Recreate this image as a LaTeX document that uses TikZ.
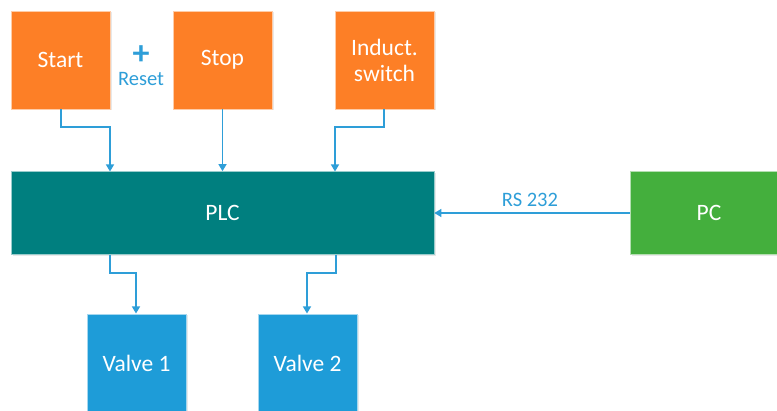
\documentclass[tikz,border=0pt]{standalone}
\usepackage{fontspec}
\setmainfont{Carlito}
\usetikzlibrary{arrows.meta,shadows}
\definecolor{orng}{HTML}{FD7F26}
\definecolor{teal2}{HTML}{007F7F}
\definecolor{grn}{HTML}{44AF3D}
\definecolor{blu}{HTML}{1E9CD8}
\definecolor{arr}{HTML}{2E9ED8}
\tikzset{
  box/.style={rectangle, draw=white!60!#1, line width=0.6pt, fill=#1, text=white,
     font=\fontsize{23.5}{26}\selectfont, align=center, inner sep=0pt,
     drop shadow={opacity=0.18, shadow xshift=1.5pt, shadow yshift=-1.5pt}},
  conn/.style={draw=arr, line width=1.3pt, -{Triangle[width=8pt,length=7pt]}},
  lbl/.style={text=arr, font=\fontsize{20.5}{22}\selectfont, inner sep=0pt}
}
\begin{document}
\begin{tikzpicture}[x=1pt,y=-1pt]
\useasboundingbox (0,0) rectangle (777,411);
\node[box=orng, minimum width=99pt, minimum height=98pt] (start) at (60.5,60) {Start};
\node[box=orng, minimum width=99pt, minimum height=98pt] (stop) at (222.5,60) {Stop};
\node[box=orng, minimum width=99pt, minimum height=98pt] (ind) at (384.5,60) {Induct.\\switch};
\node[box=teal2, minimum width=423pt, minimum height=83pt] (plc) at (222.5,213) {PLC};
\node[box=grn, minimum width=158pt, minimum height=83pt] (pc) at (709,213) {PC};
\node[box=blu, minimum width=99pt, minimum height=98pt] (v1) at (136.5,363) {Valve 1};
\node[box=blu, minimum width=99pt, minimum height=98pt] (v2) at (307.5,363) {Valve 2};
\node[text=arr, font=\bfseries\fontsize{34}{34}\selectfont, inner sep=0pt, text height=14pt, text depth=0pt] (plus) at (141,58) {+};
\node[lbl] (reset) at (141,79) {Reset};
\node[lbl] (rs) at (530,200) {RS 232};
\draw[conn] (start.south -| 61,0) |- (110,127) -- (110,171.5);
\draw[conn] (stop.south) -- (stop.south |- plc.north);
\draw[conn] (ind.south -| 384,0) |- (335,127) -- (335,171.5);
\draw[conn] (pc.west) -- (plc.east);
\draw[conn] (plc.south -| 110,0) |- (136,273) -- (136,313.5);
\draw[conn] (plc.south -| 336,0) |- (307,273) -- (307,313.5);
\end{tikzpicture}
\end{document}
